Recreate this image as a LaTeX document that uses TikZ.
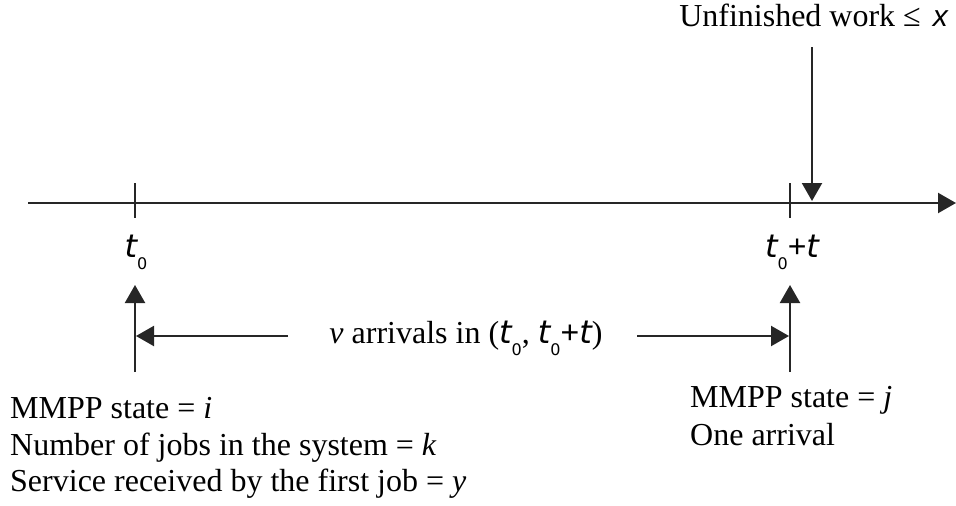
\documentclass[tikz,border=0pt]{standalone}
\usepackage{fontspec}
\setmainfont{Liberation Serif}
\newfontfamily\sansit{DejaVu Sans}[UprightFont=* Oblique]
\newfontfamily\sansup{DejaVu Sans}
\newfontfamily\libsans{Liberation Sans}
\newfontfamily\libsansit{Liberation Sans}[UprightFont=* Italic]
\usetikzlibrary{arrows.meta}
\newcommand{\tv}{{\sansit t}}
\newcommand{\tz}{{\sansit t}\raisebox{-12pt}{\sansup\fontsize{16}{16}\selectfont 0}}
\begin{document}
\begin{tikzpicture}[x=1pt,y=-1pt,
  line/.style={draw=black!85, line width=2.2pt},
  tip/.style={-{Triangle[length=18pt,width=20pt]}},
  lbl/.style={inner sep=0pt, font=\fontsize{32}{37}\selectfont},
  blk/.style={inner sep=0pt, font=\fontsize{32}{37}\selectfont, anchor=base west}]
\useasboundingbox (0,0) rectangle (956,506);
% axis
\coordinate (ax0) at (28,203);
\coordinate (ax1) at (956,203);
\draw[line,tip] (ax0) -- (ax1);
% ticks
\coordinate (tk1a) at (135,183); \coordinate (tk1b) at (135,218);
\coordinate (tk2a) at (790,183); \coordinate (tk2b) at (790,218);
\draw[line] (tk1a) -- (tk1b);
\draw[line] (tk2a) -- (tk2b);
% top label and arrow
\node[lbl, anchor=base east] (uw) at (948,27) {Unfinished work ≤\hspace{12pt}{\libsansit\fontsize{30}{30}\selectfont x}};
\coordinate (dA) at (812,47);
\coordinate (dB) at (812,201);
\draw[line,tip] (dA) -- (dB);
% time labels
\node[lbl, anchor=base] (t0) at (136,257) {\tz};
\node[lbl, anchor=base] (t0t) at (792,257) {\tz{\libsans +}\tv};
% up arrows
\coordinate (u1a) at (135,372); \coordinate (u1b) at (135,285);
\coordinate (u2a) at (790,372); \coordinate (u2b) at (790,285);
\draw[line,tip] (u1a) -- (u1b);
\draw[line,tip] (u2a) -- (u2b);
% interval label and arrows
\node[lbl, anchor=base] (va) at (466,343) {\textit{v} arrivals in (\tz, \tz{\libsans +}\tv)};
\coordinate (h1) at (288,336); \coordinate (h1e) at (136,336);
\coordinate (h2) at (637,336); \coordinate (h2e) at (789,336);
\draw[line,tip] (h1) -- (h1e);
\draw[line,tip] (h2) -- (h2e);
% text blocks
\node[blk] (l1) at (10,418) {MMPP state = \textit{i}};
\node[blk] (l2) at (10,455) {Number of jobs in the system = \textit{k}};
\node[blk] (l3) at (10,491) {Service received by the first job = \textit{y}};
\node[blk] (r1) at (690,407) {MMPP state = \textit{j}};
\node[blk] (r2) at (690,445) {One arrival};
\end{tikzpicture}
\end{document}
